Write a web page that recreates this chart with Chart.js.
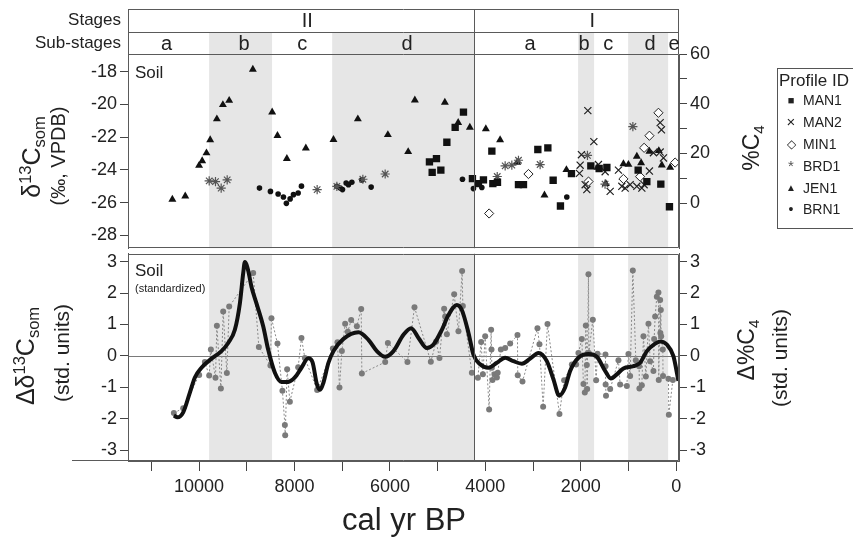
<!DOCTYPE html>
<html><head><meta charset="utf-8">
<script src="https://cdn.jsdelivr.net/npm/chart.js@4.4.1/dist/chart.umd.min.js"></script>
<style>
body{margin:0;background:#fff;width:853px;height:538px;overflow:hidden;position:relative;font-family:"Liberation Sans",Arial,sans-serif;color:#222}
canvas{position:absolute;left:0}
#c1{top:0}
#c2{top:240px}
.rot{position:absolute;transform:translate(-50%,-50%) rotate(-90deg);white-space:nowrap;line-height:1}
.sup{font-size:0.66em;vertical-align:0.55em}
.sub{font-size:0.66em;vertical-align:-0.3em}
#leg{position:absolute;left:777px;top:68px;width:100px;height:161px;border:1px solid #555;box-sizing:border-box}
#leg .lt{position:absolute;left:1px;top:2px;font-size:17px;white-space:nowrap}
#leg .li{position:absolute;left:0;height:16px;line-height:16px;font-size:14px;white-space:nowrap}
#leg .m{position:absolute;left:5px;width:16px;text-align:center}
#leg .t{position:absolute;left:25px}
#xt{position:absolute;left:404px;top:519px;transform:translate(-50%,-50%);font-size:31px;white-space:nowrap;line-height:1}
</style></head><body>
<canvas id="c1" width="853" height="262" style="width:853px;height:262px"></canvas>
<canvas id="c2" width="853" height="298" style="width:853px;height:298px"></canvas>

<div class="rot" style="left:32px;top:157px;font-size:25px">δ<span class="sup">13</span>C<span class="sub">som</span></div>
<div class="rot" style="left:58px;top:156px;font-size:20px">(‰, VPDB)</div>
<div class="rot" style="left:26px;top:356px;font-size:25px">Δδ<span class="sup">13</span>C<span class="sub">som</span></div>
<div class="rot" style="left:61px;top:353px;font-size:21px">(std. units)</div>
<div class="rot" style="left:753px;top:148px;font-size:23px">%C<span class="sub">4</span></div>
<div class="rot" style="left:748px;top:350px;font-size:23px">Δ%C<span class="sub">4</span></div>
<div class="rot" style="left:779px;top:358px;font-size:21px">(std. units)</div>
<div id="xt">cal yr BP</div>

<div id="leg">
  <div class="lt">Profile ID</div>
  <div class="li" style="top:23px"><span class="m" style="font-size:11px">■</span><span class="t">MAN1</span></div>
  <div class="li" style="top:45px"><span class="m" style="font-size:15px">×</span><span class="t">MAN2</span></div>
  <div class="li" style="top:67px"><span class="m" style="font-size:12px">◇</span><span class="t">MIN1</span></div>
  <div class="li" style="top:89px"><span class="m" style="font-size:15px;color:#555">*</span><span class="t">BRD1</span></div>
  <div class="li" style="top:111px"><span class="m" style="font-size:10px">▲</span><span class="t">JEN1</span></div>
  <div class="li" style="top:132px"><span class="m" style="font-size:14px">•</span><span class="t">BRN1</span></div>
</div>

<script>
// ---------- DATA ----------
// Top panel: [cal yr BP, d13C (permil VPDB)]
const MAN1 = [[5171,-23.51],[5114,-24.15],[5024,-23.31],[4932,-24.01],[4806,-22.31],[4632,-21.40],[4458,-20.47],
  [4270,-24.53],[4144,-24.84],[4039,-24.61],[3863,-22.85],[3842,-24.84],[3745,-24.75],[3305,-24.9],[3200,-24.9],
  [2899,-22.75],[2689,-22.65],[2578,-24.63],[2425,-26.2],[2194,-24.23],[1788,-23.75],[1614,-23.91],[1452,-23.85],
  [796,-24.01],[614,-24.71],[321,-24.87],[140,-26.25]];
const MAN2 = [[2027,-24.21],[2012,-23.71],[1985,-23.07],[1907,-24.9],[1872,-25.2],[1851,-20.38],[1725,-22.27],
  [1629,-23.67],[1488,-24.11],[1383,-25.31],[1209,-24.01],[1138,-25.0],[1069,-25.11],[964,-24.9],[824,-25.0],
  [719,-25.11],[671,-24.9],[560,-24.07],[476,-22.95],[335,-21.11],[308,-21.55],[335,-22.91],[266,-23.27]];
const MIN1 = [[3920,-26.66],[3095,-24.25],[1837,-24.71],[1105,-24.55],[755,-24.41],[671,-22.65],[560,-21.91],
  [371,-20.51],[21,-23.55]];
const BRD1 = [[9788,-24.67],[9656,-24.71],[9537,-25.11],[9411,-24.61],[7525,-25.2],[7112,-25.0],[6567,-24.57],
  [6099,-24.25],[3750,-24.4],[3584,-23.75],[3444,-23.71],[3305,-23.41],[2851,-23.67],[1859,-23.11],[1490,-24.87],
  [907,-21.35]];
const JEN1 = [[10560,-25.8],[10290,-25.6],[10000,-23.73],[9935,-23.45],[9845,-22.97],[9767,-22.17],[9627,-20.89],
  [9501,-20.02],[9369,-19.76],[8873,-17.86],[8468,-20.47],[8357,-21.91],[8160,-23.31],[7762,-22.67],[7183,-22.15],
  [6672,-20.89],[6043,-21.85],[5617,-22.89],[5477,-19.74],[4848,-19.88],[4569,-21.11],[4324,-21.40],[3989,-21.49],
  [3690,-22.17],[3330,-23.55],[2760,-25.54],[2300,-23.99],[1649,-23.85],[1474,-24.84],[1105,-23.63],[1000,-23.67],
  [824,-23.17],[734,-23.57],[560,-22.87],[363,-22.83],[300,-23.71],[126,-23.85]];
const BRN1 = [[8734,-25.11],[8504,-25.31],[8343,-25.47],[8232,-25.65],[8170,-26.04],[8091,-25.77],[8022,-25.51],
  [7923,-25.41],[7854,-24.99],[7112,-25.0],[7043,-25.11],[6994,-25.2],[6917,-24.8],[6869,-24.9],[6798,-24.75],
  [6588,-24.61],[6393,-25.05],[4479,-24.57],[4249,-25.14],[4073,-25.07],[2292,-25.65]];

// Bottom panel: standardized values [cal yr BP, std units]
const STD_POINTS = [[10529,-1.82],[10333,-1.67],[9998,-0.61],[9879,-0.20],[9788,-0.63],[9753,0.20],[9656,-0.70],
  [9627,0.96],[9543,-1.04],[9495,1.41],[9418,-0.55],[9369,1.57],[8866,2.64],[8747,0.28],[8504,-0.31],[8483,1.20],
  [8357,0.39],[8253,-1.11],[8202,-2.20],[8195,-2.53],[8154,-0.43],[8097,-1.46],[7923,-0.36],[7854,0.57],[7783,-0.07],
  [7525,-1.09],[7196,0.23],[7099,0.43],[7057,-1.01],[7007,0.15],[6938,1.02],[6882,0.77],[6812,1.14],[6693,0.94],
  [6602,1.49],[6588,-0.56],[6099,-0.20],[6043,0.41],[5632,-0.20],[5485,1.55],[5142,-0.19],[5030,0.46],[4961,-0.07],
  [4863,1.50],[4842,1.25],[4806,0.69],[4653,1.96],[4563,0.78],[4486,2.70],[4471,1.59],[4282,-0.54],[4156,-0.70],
  [4087,0.44],[4051,-0.59],[4003,0.62],[3920,-1.71],[3878,0.83],[3870,0.20],[3863,-0.38],[3850,-0.77],[3808,-0.59],
  [3758,-0.69],[3740,-0.54],[3674,0.20],[3584,0.25],[3479,0.39],[3326,0.66],[3320,-0.62],[3221,-0.82],[2907,0.88],
  [2865,0.37],[2788,-1.62],[2697,1.01],[2446,-1.85],[2348,-0.78],[2186,-0.28],[2096,-0.28],[2048,0.09],[1977,0.54],
  [1943,-0.90],[1914,-1.17],[1893,0.97],[1872,-0.29],[1865,-1.06],[1838,2.60],[1830,0.09],[1746,1.15],[1677,-0.78],
  [1649,0.07],[1482,0.04],[1480,-0.33],[1478,-0.91],[1470,-1.27],[1383,-1.06],[1209,-0.14],[1174,-0.91],[1033,-0.96],
  [1000,0.06],[964,-0.64],[908,2.72],[845,-0.14],[776,-0.33],[770,-1.04],[719,-0.94],[685,0.62],[635,-0.66],
  [580,1.02],[545,-0.17],[476,-0.48],[461,0.54],[440,1.25],[405,1.88],[371,2.02],[365,-0.77],[335,1.78],[330,0.73],
  [321,1.46],[314,0.62],[279,0.20],[275,-0.64],[161,-0.73],[153,-1.88],[69,-0.77]];
const STD_SMOOTH = [[10528,-1.90],[10453,-1.96],[10333,-1.80],[10193,-1.17],[10088,-0.69],[9950,-0.38],[9740,-0.09],
  [9531,0.15],[9390,0.41],[9250,0.83],[9145,1.67],[9076,2.62],[9040,2.99],[8971,2.72],[8902,2.20],[8797,1.67],
  [8656,0.94],[8552,0.20],[8411,-0.54],[8273,-0.83],[8133,-0.83],[7992,-0.69],[7854,-0.38],[7713,-0.08],[7623,-0.20],
  [7531,-0.90],[7462,-1.08],[7393,-0.85],[7288,-0.22],[7183,0.15],[6973,0.54],[6659,0.75],[6450,0.51],[6273,0.15],
  [6099,-0.03],[5925,0.15],[5716,0.67],[5554,0.88],[5401,0.57],[5225,0.25],[5087,0.36],[4911,0.83],[4773,1.30],
  [4597,1.62],[4492,1.46],[4353,0.73],[4249,0.04],[4108,-0.27],[3934,-0.38],[3758,-0.22],[3584,-0.06],[3410,-0.17],
  [3234,-0.25],[3060,-0.09],[2886,0.09],[2710,-0.17],[2572,-0.75],[2452,-1.27],[2327,-1.01],[2222,-0.48],[2048,-0.06],
  [1838,0.06],[1662,-0.03],[1488,-0.48],[1369,-0.72],[1243,-0.59],[1105,-0.40],[895,-0.33],[755,-0.22],[614,0.15],
  [440,0.39],[335,0.46],[195,0.36],[57,-0.01],[-48,-0.80]];

// Axis tick values
const X_TICKS = [11000,10000,9000,8000,7000,6000,5000,4000,3000,2000,1000,0];
const TOP_LEFT_TICKS = [-28,-26,-24,-22,-20,-18];
const TOP_RIGHT_TICKS = [0,10,20,30,40,50,60];
const BOTTOM_TICKS = [-3,-2,-1,0,1,2,3];

// Stages / sub-stages
const STAGE_LABELS = ['II','I'];
const STAGE_LABEL_AGE = [7734,1760];
const STAGE_BOUNDARY = 4235;
const SUB_LABELS = ['a','b','c','d','a','b','c','d','e'];
const SUB_LABEL_AGE = [10680,9055,7839,5638,3060,1928,1425,545,42];
const SHADE_FROM = [9790,7210,2055,1006];
const SHADE_TO = [8470,4235,1720,168];

// ---------- CHART ----------
const FONT = '"Liberation Sans", Arial, sans-serif';
const toXY = arr => arr.map(p => ({x:p[0], y:p[1]}));
const FRAME = '#5a5a5a';

function xpx(chart, v){ return chart.scales.x.getPixelForValue(v); }

const decoPlugin = {
  id:'deco',
  beforeDraw(chart, args, o){
    const {ctx, chartArea:a} = chart;
    const top = o.shadeTop != null ? o.shadeTop : a.top;
    ctx.save();
    ctx.fillStyle = '#e6e6e6';
    for (let i=0;i<SHADE_FROM.length;i++){
      const x1 = xpx(chart, SHADE_FROM[i]), x2 = xpx(chart, SHADE_TO[i]);
      ctx.fillRect(Math.min(x1,x2), top, Math.abs(x2-x1), a.bottom-top);
    }
    if (o.zeroLine){
      const y = Math.round(chart.scales.y.getPixelForValue(0))+0.5;
      ctx.strokeStyle = '#7a7a7a'; ctx.lineWidth = 1;
      ctx.beginPath(); ctx.moveTo(a.left,y); ctx.lineTo(a.right,y); ctx.stroke();
    }
    ctx.restore();
  },
  afterDraw(chart, args, o){
    const {ctx, chartArea:a} = chart;
    ctx.save();
    ctx.strokeStyle = FRAME; ctx.lineWidth = 1;
    const L = Math.round(a.left)+0.5, R = Math.round(a.right)-0.5;
    const T = Math.round(a.top)+0.5, B = Math.round(a.bottom)-0.5;
    ctx.beginPath();
    ctx.moveTo(L,T); ctx.lineTo(R,T); ctx.lineTo(R,B); ctx.lineTo(L,B); ctx.closePath();
    const xd = Math.round(xpx(chart, STAGE_BOUNDARY))+0.5;
    const dTop = o.header ? 9 : a.top;
    ctx.moveTo(xd, dTop); ctx.lineTo(xd, a.bottom);
    if (o.header){
      ctx.moveTo(L,9.5); ctx.lineTo(R,9.5);
      ctx.moveTo(L,32.5); ctx.lineTo(R,32.5);
      ctx.moveTo(L,9); ctx.lineTo(L,a.top);
      ctx.moveTo(R,9); ctx.lineTo(R,a.top);
    }
    if (o.axisExt){
      ctx.moveTo(72, B); ctx.lineTo(L, B);
    }
    ctx.stroke();
    ctx.fillStyle = '#222';
    ctx.textBaseline = 'middle';
    if (o.header){
      ctx.font = '17px ' + FONT;
      ctx.textAlign = 'right';
      ctx.fillText('Stages', 121, 20);
      ctx.fillText('Sub-stages', 121, 43);
      ctx.textAlign = 'center';
      ctx.font = '20px ' + FONT;
      STAGE_LABELS.forEach((s,i) => ctx.fillText(s, xpx(chart, STAGE_LABEL_AGE[i]), 21));
      SUB_LABELS.forEach((s,i) => ctx.fillText(s, xpx(chart, SUB_LABEL_AGE[i]), 44));
    }
    ctx.textAlign = 'left';
    ctx.font = '17px ' + FONT;
    ctx.fillText('Soil', a.left + 7, a.top + (o.header ? 19 : 18));
    if (o.sublabel){
      ctx.font = '11px ' + FONT;
      ctx.fillText(o.sublabel, a.left + 7, a.top + 35);
    }
    ctx.restore();
  }
};

function setTicks(vals){ return s => { s.ticks = vals.map(v => ({value:v})); }; }
const tickFont = {family: FONT, size: 18};
function yAxis(pos, min, max, vals, cb, extra){
  return Object.assign({
    type:'linear', position:pos, min:min, max:max,
    afterBuildTicks: setTicks(vals),
    grid:{drawOnChartArea:false, color:'#444', tickLength:8},
    border:{color:FRAME},
    ticks:{font:tickFont, color:'#222', padding:3, autoSkip:false, callback: cb || (v => String(v))}
  }, extra || {});
}

// Top chart
new Chart(document.getElementById('c1'), {
  type:'scatter',
  data:{datasets:[
    {label:'MAN1', data:toXY(MAN1), pointStyle:'rect', radius:5.2, backgroundColor:'#111', borderColor:'#111', borderWidth:0},
    {label:'MAN2', data:toXY(MAN2), pointStyle:'crossRot', radius:5, borderColor:'#222', borderWidth:1.2, backgroundColor:'#222'},
    {label:'MIN1', data:toXY(MIN1), pointStyle:'rectRot', radius:4.6, backgroundColor:'#fff', borderColor:'#222', borderWidth:1},
    {label:'BRD1', data:toXY(BRD1), pointStyle:'star', radius:4.6, borderColor:'#555', borderWidth:1.2, backgroundColor:'#555'},
    {label:'JEN1', data:toXY(JEN1), pointStyle:'triangle', radius:4.6, backgroundColor:'#111', borderColor:'#111', borderWidth:0},
    {label:'BRN1', data:toXY(BRN1), pointStyle:'circle', radius:2.8, backgroundColor:'#111', borderColor:'#111', borderWidth:0}
  ]},
  options:{
    responsive:false, animation:false,
    layout:{padding:{top:54, bottom:10, left:0, right:136}},
    plugins:{legend:{display:false}, tooltip:{enabled:false},
      deco:{header:true, shadeTop:32}},
    scales:{
      x:{type:'linear', reverse:true, min:-60, max:11490, display:false},
      y: yAxis('left', -28.78, -16.92, TOP_LEFT_TICKS, null, {afterFit: s => { s.width = 128; }}),
      y2: yAxis('right', -18.1, 60, TOP_RIGHT_TICKS, v => (v % 20 === 0 ? String(v) : ''),
        {afterFit: s => { s.width = 38; }})
    }
  },
  plugins:[decoPlugin]
});
// right axis tick style
(function(){})();

// Bottom chart
new Chart(document.getElementById('c2'), {
  type:'scatter',
  data:{datasets:[
    {label:'smooth', data:toXY(STD_SMOOTH), showLine:true, pointRadius:0, borderColor:'#111', borderWidth:4,
      cubicInterpolationMode:'monotone', order:0},
    {label:'std', data:toXY(STD_POINTS), showLine:true, borderColor:'#8a8a8a', borderWidth:1, borderDash:[2,2],
      pointRadius:3, backgroundColor:'#7a7a7a', pointBorderWidth:0, order:1}
  ]},
  options:{
    responsive:false, animation:false,
    layout:{padding:{top:12, bottom:0, left:0, right:133}},
    plugins:{legend:{display:false}, tooltip:{enabled:false},
      deco:{zeroLine:true, axisExt:true, sublabel:'(standardized)'}},
    scales:{
      x:{type:'linear', reverse:true, min:-60, max:11490, position:'bottom',
        afterBuildTicks: setTicks(X_TICKS),
        afterFit: s => { s.height = 77; },
        grid:{drawOnChartArea:false, color:'#444', tickLength:10},
        border:{color:FRAME},
        ticks:{font:tickFont, color:'#222', padding:5, autoSkip:false, maxRotation:0,
          callback: v => (v % 2000 === 0 ? String(v) : '')}},
      y: yAxis('left', -3.35, 3.25, BOTTOM_TICKS, null, {afterFit: s => { s.width = 128; }}),
      y2: yAxis('right', -3.35, 3.25, BOTTOM_TICKS, null, {afterFit: s => { s.width = 41; }})
    }
  },
  plugins:[decoPlugin]
});
</script>
</body></html>
